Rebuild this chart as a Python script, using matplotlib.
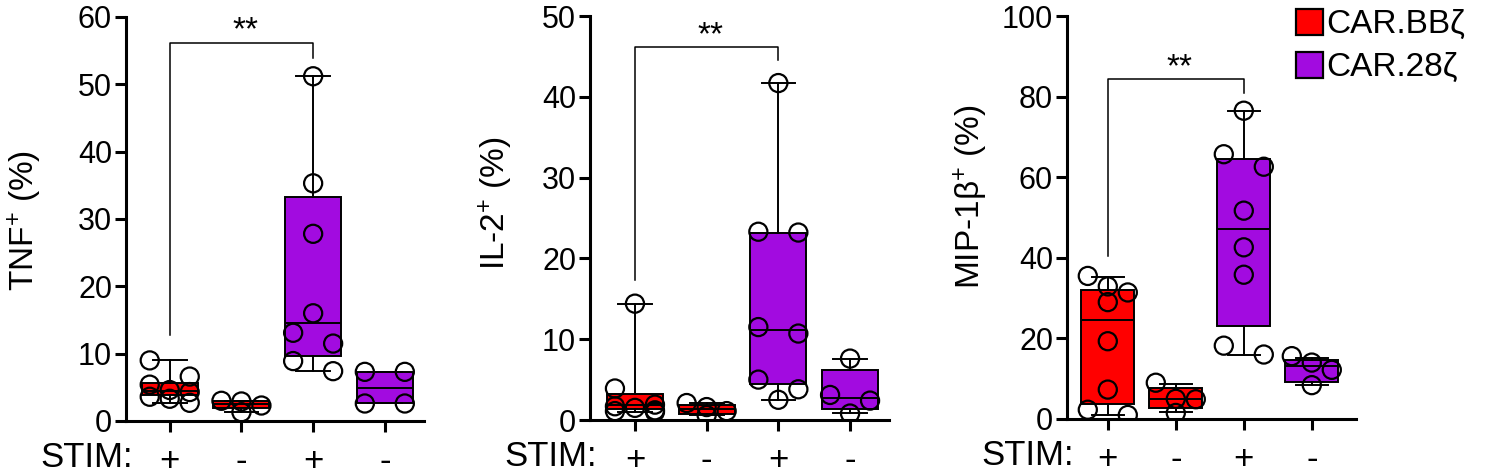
import numpy as np
import matplotlib
matplotlib.use("Agg")
import matplotlib.pyplot as plt
from matplotlib.patches import Patch

plt.rcParams['font.family'] = ['Liberation Sans', 'DejaVu Sans']
plt.rcParams['mathtext.fontset'] = 'custom'
plt.rcParams['mathtext.rm'] = 'Liberation Sans'
plt.rcParams['mathtext.it'] = 'Liberation Sans:italic'

# ---- data ----
stim_labels = ['+', '-', '+', '-']
car_labels = ['CAR.BBζ', 'CAR.28ζ']
group_car = [0, 0, 1, 1]

tnf_points = [
    [9.0, 6.6, 5.4, 4.6, 4.3, 3.6, 3.3, 2.7],
    [3.0, 2.9, 2.3, 1.3],
    [51.2, 35.3, 27.8, 16.0, 13.1, 11.5, 8.9, 7.4],
    [7.3, 7.3, 2.6, 2.6],
]
tnf_q1 = [3.9, 1.9, 9.7, 2.6]
tnf_med = [4.5, 2.5, 14.6, 4.9]
tnf_q3 = [5.6, 2.9, 33.3, 7.3]
tnf_min = [2.7, 1.3, 7.4, 2.6]
tnf_max = [9.0, 3.0, 51.2, 7.3]

il2_points = [
    [14.4, 3.9, 1.9, 1.7, 1.5, 1.2, 1.1, 1.0],
    [2.1, 1.6, 1.1, 0.6],
    [41.7, 23.3, 23.2, 11.5, 10.7, 5.0, 3.8, 2.5],
    [7.6, 3.1, 2.4, 0.8],
]
il2_q1 = [1.3, 0.8, 4.4, 1.4]
il2_med = [1.8, 1.3, 11.1, 2.7]
il2_q3 = [3.2, 1.8, 23.1, 6.2]
il2_min = [1.0, 0.6, 2.5, 0.9]
il2_max = [14.4, 2.1, 41.7, 7.6]

mip_points = [
    [35.5, 32.9, 31.4, 29.0, 19.3, 7.3, 2.3, 1.0],
    [9.0, 5.0, 4.9, 1.5],
    [76.5, 65.7, 62.6, 51.7, 42.6, 35.8, 18.2, 16.0],
    [15.6, 14.0, 12.2, 8.4],
]
mip_q1 = [3.8, 2.7, 23.0, 9.3]
mip_med = [24.5, 5.0, 47.1, 13.1]
mip_q3 = [32.0, 7.6, 64.6, 14.6]
mip_min = [1.0, 1.7, 16.0, 8.4]
mip_max = [35.2, 8.8, 76.5, 15.2]

ylabels = ['TNF$^{+}$ (%)', 'IL-2$^{+}$ (%)', 'MIP-1β$^{+}$ (%)']
ymax = [60, 50, 100]
ystep = [10, 10, 20]

# significance bracket: bar height, left leg end, right leg end
sig_bar = [56.2, 46.2, 84.4]
sig_left = [12.8, 17.3, 40.4]
sig_right = [53.9, 44.5, 80.8]

colors = ['#FF0000', '#A20BE0']

# ---- layout (pixels) ----
W, H = 1500, 475
lefts = [126, 590, 1067]
bottoms = [421, 420, 419]
tops = [17, 16, 16]
xlims = [(0.39, 4.55), (0.373, 4.55), (0.40, 4.65)]
steps = [71.7, 71.7, 68.0]
label_off = [82, 75, 77]
label_y = [0.497, 0.537, 0.55]

LW = 2.2
DOT_PX = 17
fig = plt.figure(figsize=(W / 100, H / 100), dpi=100)


def swarm_x(ax, x0, vals):
    # rows of up to 3 overlapping points, spread around the centre
    to_px = ax.transData.transform
    order = np.argsort(vals)[::-1]
    py = {i: to_px((x0, vals[i]))[1] for i in order}
    rows, cur = [], []
    for i in order:
        if cur and (py[cur[0]] - py[i] >= DOT_PX or len(cur) == 3):
            rows.append(cur)
            cur = []
        cur.append(i)
    rows.append(cur)
    px_per_x = to_px((1, 0))[0] - to_px((0, 0))[0]
    xs = np.zeros(len(vals))
    for row in rows:
        ks = {1: [0], 2: [-1, 1], 3: [-1, 0, 1]}[len(row)]
        for k, i in zip(ks, row):
            xs[i] = x0 + k * 20 / px_per_x
    return xs


all_data = [
    (tnf_points, tnf_q1, tnf_med, tnf_q3, tnf_min, tnf_max),
    (il2_points, il2_q1, il2_med, il2_q3, il2_min, il2_max),
    (mip_points, mip_q1, mip_med, mip_q3, mip_min, mip_max),
]

for p, (pts, q1, med, q3, lo, hi) in enumerate(all_data):
    wpx = (xlims[p][1] - xlims[p][0]) * steps[p]
    ax = fig.add_axes([lefts[p] / W, 1 - bottoms[p] / H, wpx / W,
                       (bottoms[p] - tops[p]) / H])
    ax.set_xlim(*xlims[p])
    ax.set_ylim(0, ymax[p])
    pos = np.arange(1, 5)

    stats = []
    for g in range(4):
        stats.append(dict(q1=q1[g], med=med[g], q3=q3[g],
                          whislo=lo[g], whishi=hi[g], fliers=[]))
    bp = ax.bxp(stats, positions=pos, widths=0.78, capwidths=0.47,
                patch_artist=True, showfliers=False,
                boxprops=dict(edgecolor='black', linewidth=1.4),
                medianprops=dict(color='black', linewidth=1.4),
                whiskerprops=dict(color='black', linewidth=1.4),
                capprops=dict(color='black', linewidth=1.4))
    for g, box in enumerate(bp['boxes']):
        box.set_facecolor(colors[group_car[g]])

    for g in range(4):
        xs = swarm_x(ax, pos[g], pts[g])
        ax.scatter(xs, pts[g], s=170, facecolors='none',
                   edgecolors='black', linewidths=1.6, zorder=4)

    # significance bracket
    ax.plot([1, 1, 3, 3], [sig_left[p], sig_bar[p], sig_bar[p], sig_right[p]],
            color='black', lw=1.1)
    ax.annotate('**', xy=(2.05, sig_bar[p]), xytext=(0, -3),
                textcoords='offset points', ha='center', va='bottom',
                fontsize=24)

    for s in ['top', 'right']:
        ax.spines[s].set_visible(False)
    for s in ['left', 'bottom']:
        ax.spines[s].set_linewidth(LW)
    ax.set_yticks(np.arange(0, ymax[p] + 1, ystep[p]))
    ax.set_xticks(pos, stim_labels)
    ax.tick_params(axis='both', length=8, width=LW, labelsize=22,
                   direction='out', color='black')
    ax.tick_params(axis='y', pad=2)
    ax.tick_params(axis='x', pad=9, labelsize=25)

    ax.set_ylabel(ylabels[p], fontsize=24)
    ax.yaxis.set_label_coords(-label_off[p] / wpx, label_y[p])

    ax.annotate('STIM:', xy=(0, 0), xycoords='axes fraction',
                xytext=(5, -33), textcoords='offset points',
                ha='right', va='baseline', fontsize=25)

handles = [Patch(facecolor=colors[i], edgecolor='black', linewidth=1.6,
                 label=car_labels[i]) for i in range(2)]
fig.legend(handles=handles, loc='upper left',
           bbox_to_anchor=(1296 / W, 1 - 9 / H), frameon=False, fontsize=24,
           handlelength=0.8, handleheight=0.8, handletextpad=0.1,
           labelspacing=0.35, borderpad=0, borderaxespad=0)

fig.savefig('out.png', dpi=100)
